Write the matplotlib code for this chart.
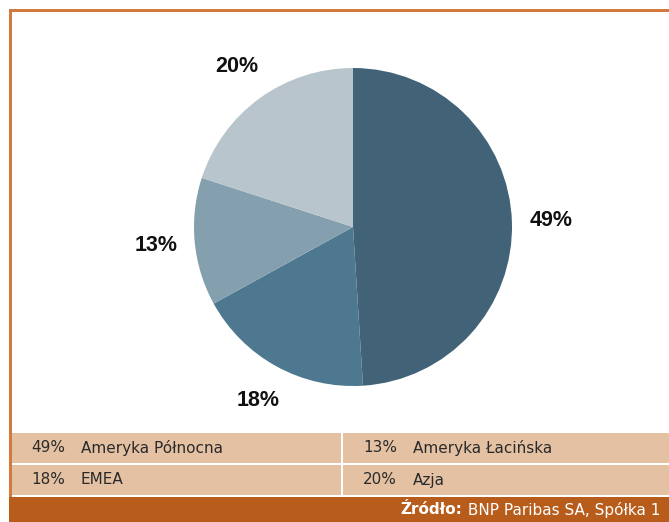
import matplotlib
matplotlib.use("Agg")
import matplotlib.pyplot as plt
from matplotlib.patches import Rectangle

regions = ["Ameryka Północna", "EMEA", "Ameryka Łacińska", "Azja"]
shares = [49, 18, 13, 20]
pct_labels = ["49%", "18%", "13%", "20%"]
legend_order = [[0, 2], [1, 3]]
colors = ["#426377", "#4e7890", "#849fae", "#b8c5cd"]
source_bold = "Źródło:"
source_text = " BNP Paribas SA, Spółka 1"

W, H = 669, 522
fig = plt.figure(figsize=(W / 100, H / 100), dpi=100)
fig.patch.set_facecolor("white")

def fx(px):
    return px / W

def fy(py):
    return 1 - py / H

# frame
bg = fig.add_axes([0, 0, 1, 1])
bg.set_xlim(0, W)
bg.set_ylim(H, 0)
bg.axis("off")
border = "#d27a3c"
bg.add_patch(Rectangle((9, 9), W - 9, 2.5, color=border, lw=0))
bg.add_patch(Rectangle((9, 9), 2.5, 490, color=border, lw=0))

# legend table
beige = "#e4c1a3"
bg.add_patch(Rectangle((11.5, 433), W - 11.5, 30, color=beige, lw=0))
bg.add_patch(Rectangle((11.5, 465), W - 11.5, 30, color=beige, lw=0))
bg.add_patch(Rectangle((341, 433), 2, 62, color="white", lw=0))
font = ["Liberation Sans Narrow", "DejaVu Sans"]
for r, row in enumerate(legend_order):
    yc = 448 + r * 32
    for c, idx in enumerate(row):
        x0 = 31 + c * 332
        bg.text(x0, yc, pct_labels[idx], fontsize=11, family=font,
                color="#2a2a2a", va="center", ha="left")
        bg.text(x0 + 50, yc, regions[idx], fontsize=11, family=font,
                color="#2a2a2a", va="center", ha="left")

# source bar
bg.add_patch(Rectangle((9, 497), W - 9, H - 497, color="#b85c1b", lw=0))
t2 = bg.text(660, 510, source_text, fontsize=11, family=font, color="white",
             va="center", ha="right")
fig.canvas.draw()
bb = t2.get_window_extent()
xr = bb.x0  # pixels from left
bg.text(xr, 510, source_bold, fontsize=11, family=font, color="white",
        fontweight="bold", va="center", ha="right")

# pie
cx, cy, R = 353, 227, 159
ax = fig.add_axes([fx(cx - R), fy(cy + R), 2 * R / W, 2 * R / H])
ax.pie(shares, colors=colors, startangle=90, counterclock=False,
       radius=1, wedgeprops=dict(linewidth=0))
import numpy as np
ang = 90.0
for s, lab in zip(shares, pct_labels):
    mid = ang - s * 3.6 / 2
    ang -= s * 3.6
    r = 1.245
    ax.text(r * np.cos(np.radians(mid)), r * np.sin(np.radians(mid)), lab,
            ha="center", va="center", fontsize=15.5, fontweight="bold",
            family=["Liberation Sans", "DejaVu Sans"], color="#111111")
ax.set_xlim(-1, 1)
ax.set_ylim(-1, 1)
ax.set_aspect("auto")
ax.axis("off")

fig.savefig("out.png", dpi=100, facecolor="white")
